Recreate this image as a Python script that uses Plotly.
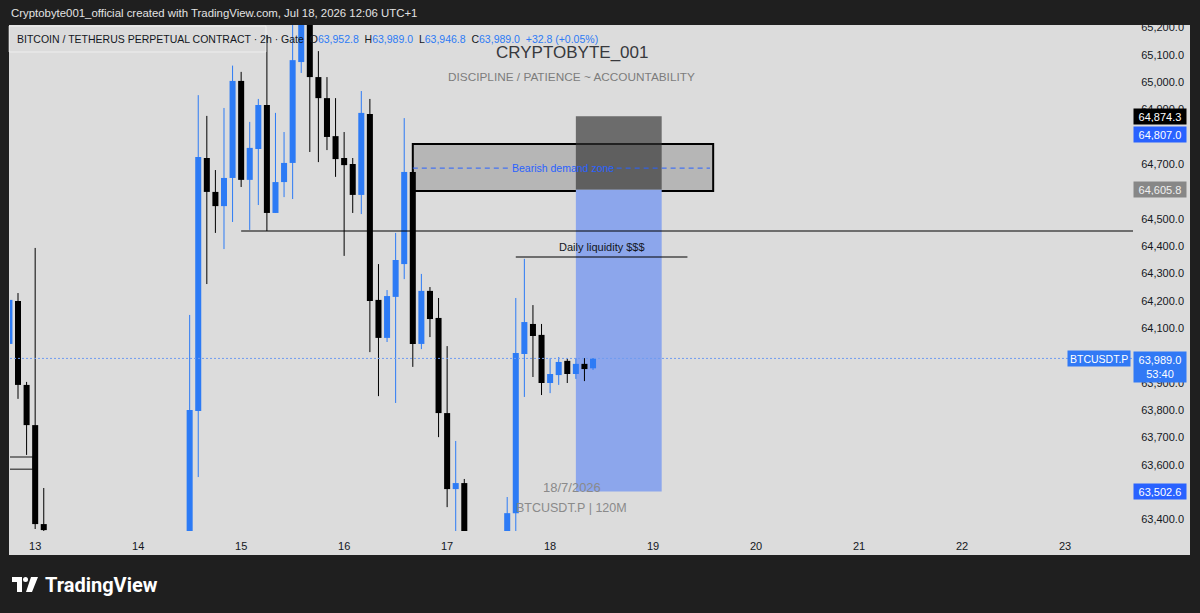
import plotly.graph_objects as go
import pandas as pd

# ---------------- data ----------------
candle_time = [
    "2026-07-12 18:00", "2026-07-12 20:00", "2026-07-12 22:00", "2026-07-13 00:00", "2026-07-13 02:00",
    "2026-07-14 12:00", "2026-07-14 14:00", "2026-07-14 16:00", "2026-07-14 18:00", "2026-07-14 20:00",
    "2026-07-14 22:00",
    "2026-07-15 00:00", "2026-07-15 02:00", "2026-07-15 04:00", "2026-07-15 06:00", "2026-07-15 08:00",
    "2026-07-15 10:00", "2026-07-15 12:00", "2026-07-15 14:00", "2026-07-15 16:00", "2026-07-15 18:00",
    "2026-07-15 20:00", "2026-07-15 22:00",
    "2026-07-16 00:00", "2026-07-16 02:00", "2026-07-16 04:00", "2026-07-16 06:00", "2026-07-16 08:00",
    "2026-07-16 10:00", "2026-07-16 12:00", "2026-07-16 14:00", "2026-07-16 16:00", "2026-07-16 18:00",
    "2026-07-16 20:00", "2026-07-16 22:00",
    "2026-07-17 00:00", "2026-07-17 02:00", "2026-07-17 04:00",
    "2026-07-17 14:00", "2026-07-17 16:00", "2026-07-17 18:00", "2026-07-17 20:00", "2026-07-17 22:00",
    "2026-07-18 00:00", "2026-07-18 02:00", "2026-07-18 04:00", "2026-07-18 06:00", "2026-07-18 08:00",
    "2026-07-18 10:00",
]
opens = [64042, 64199, 63892, 63745, 63383,
         63330, 63797, 64722, 64598, 64546, 64649,
         65004, 64642, 64755, 64916, 64521, 64634, 64704, 65073, 65215, 65018, 64941, 64802,
         64722, 64700, 64587, 64883, 64203, 64064, 64214, 64334, 64671, 64042, 64236, 64137,
         63789, 63511, 63533,
         63340, 63423, 64005, 64115, 64075,
         63899, 63928, 63980, 63932, 63969, 63952.8]
highs = [64239, 64228, 63903, 64393, 63515,
         64148, 64952, 64876, 64678, 64905, 65060,
         65037, 64854, 64938, 65172, 64887, 64817, 65210, 65240, 65240, 65113, 65018, 64941,
         64817, 64722, 64967, 64938, 64334, 64239, 64448, 64868, 64678, 64298, 64250, 64210,
         64034, 63687, 63548,
         63482, 64210, 64353, 64184, 64115,
         63990, 63994, 63990, 63990, 63990, 63989.0]
lows = [64038, 63841, 63636, 63365, 63350,
        63300, 63555, 64261, 64448, 64389, 64488,
        64616, 64459, 64550, 64455, 64521, 64579, 64572, 65033, 64744, 64707, 64751, 64653,
        64364, 64521, 64517, 64012, 63851, 64049, 63826, 64279, 63958, 64023, 64067, 63701,
        63445, 63330, 63300,
        63300, 63330, 63848, 63921, 63855,
        63862, 63892, 63899, 63914, 63906, 63946.8]
closes = [64203, 63892, 63745, 63383, 63361,
          63800, 64726, 64598, 64546, 64649, 65004,
          64642, 64759, 64916, 64521, 64634, 64704, 65080, 65215, 65018, 64941, 64799, 64718,
          64696, 64587, 64887, 64199, 64064, 64217, 64349, 64671, 64042, 64236, 64133, 63789,
          63511, 63533, 63340,
          63423, 64009, 64122, 64071, 63899,
          63932, 63976, 63932, 63969, 63950, 63989.0]

# price-axis ticks that remain visible (the others sit under the coloured price boxes)
price_ticks = [63400, 63600, 63700, 63800, 63900, 64100, 64200, 64300,
               64400, 64500, 64700, 64900, 65000, 65100, 65200]

last_price = 63989.0
countdown = "53:40"
change_text = "+32.8 (+0.05%)"
support_level = 64455
support_start = "2026-07-15 00:00"
zone_low, zone_high = 64601, 64773
zone_mid = 64685
zone_start, zone_end = "2026-07-16 16:00", "2026-07-19 14:00"
zone_text_gap = ("2026-07-17 14:30", "2026-07-18 15:30")
zone_text_x = "2026-07-18 03:00"
liq_level = 64360
liq_start, liq_end = "2026-07-17 16:00", "2026-07-19 08:00"
liq_text_x = "2026-07-18 12:00"
pos_stop, pos_entry, pos_target = 64874.3, 64605.8, 63502.6
pos_start, pos_end = "2026-07-18 06:00", "2026-07-19 02:00"
marker_level = 64807.0
left_box = ("2026-07-12 12:00", "2026-07-12 23:30", 63584, 63628)

x_range = ["2026-07-12 18:08", "2026-07-23 15:50"]
y_range = [63357.7, 65208.5]

# ---------------- style ----------------
W, H = 1200, 613
L, R, T, B = 10, 67, 25, 82
DARK = "#1f1f1f"
PANEL = "#dcdcdc"
BLUE = "#2d7bf5"
BBLUE = "#2962ff"
TXT = "#131722"
FONT = "Liberation Sans"


def pxx(x):
    return (x - L) / (W - L - R)


def pxy(y):
    return (H - B - y) / (H - T - B)


t = pd.to_datetime(candle_time)
up = [c >= o for o, c in zip(opens, closes)]
colors = [BLUE if u else "#000000" for u in up]

fig = go.Figure()

# wicks
for col, flag in ((BLUE, True), ("#000000", False)):
    xs, ys = [], []
    for ti, h, lo, u in zip(t, highs, lows, up):
        if u == flag:
            xs += [ti, ti, None]
            ys += [lo, h, None]
    fig.add_trace(go.Scatter(x=xs, y=ys, mode="lines", line=dict(color=col, width=1),
                             hoverinfo="skip", showlegend=False))

# bodies
base = [min(o, c) for o, c in zip(opens, closes)]
size = [max(abs(c - o), 4) for o, c in zip(opens, closes)]
fig.add_trace(go.Bar(x=t, y=size, base=base, width=2 * 43 * 60 * 1000 * 0.98,
                     marker=dict(color=colors, line=dict(width=0)),
                     hoverinfo="skip", showlegend=False))

shapes = []
# chart panel
shapes.append(dict(type="rect", xref="paper", yref="paper", x0=pxx(9), x1=pxx(1190),
                   y0=pxy(555), y1=pxy(25), fillcolor=PANEL, line=dict(width=0), layer="below"))
# small box at the left edge
shapes.append(dict(type="rect", xref="x", yref="y", x0=left_box[0], x1=left_box[1],
                   y0=left_box[2], y1=left_box[3], line=dict(color="#555555", width=1.5),
                   fillcolor="rgba(0,0,0,0)", layer="below"))
# demand zone
shapes.append(dict(type="rect", xref="x", yref="y", x0=zone_start, x1=zone_end,
                   y0=zone_low, y1=zone_high, fillcolor="rgba(120,120,120,0.38)",
                   line=dict(color="#000000", width=2), layer="below"))
# position tool
shapes.append(dict(type="rect", xref="x", yref="y", x0=pos_start, x1=pos_end,
                   y0=pos_entry, y1=pos_stop, fillcolor="rgba(50,50,50,0.66)",
                   line=dict(width=0), layer="below"))
shapes.append(dict(type="rect", xref="x", yref="y", x0=pos_start, x1=pos_end,
                   y0=pos_target, y1=pos_entry, fillcolor="#8ca6ec",
                   line=dict(width=0), layer="below"))
# zone dashed mid line
for a, b in ((zone_start, zone_text_gap[0]), (zone_text_gap[1], "2026-07-19 13:15")):
    shapes.append(dict(type="line", xref="x", yref="y", x0=a, x1=b, y0=zone_mid, y1=zone_mid,
                       line=dict(color=BBLUE, width=1, dash="5px,4px"), layer="above"))
# support line
shapes.append(dict(type="line", xref="x", yref="y", x0=support_start, x1=x_range[1],
                   y0=support_level, y1=support_level, line=dict(color="#000000", width=1.2),
                   layer="above"))
# daily liquidity line
shapes.append(dict(type="line", xref="x", yref="y", x0=liq_start, x1=liq_end,
                   y0=liq_level, y1=liq_level, line=dict(color="#000000", width=1.2),
                   layer="above"))
# last price dotted line
shapes.append(dict(type="line", xref="paper", yref="y", x0=0, x1=1, y0=last_price, y1=last_price,
                   line=dict(color="#6f9cf0", width=1, dash="2px,2px"), layer="above"))
# dark header band (covers clipped top tick label)
shapes.append(dict(type="rect", xref="paper", yref="paper", x0=pxx(0), x1=pxx(W),
                   y0=pxy(25), y1=pxy(0), fillcolor=DARK, line=dict(width=0), layer="above"))
# legend box outline
shapes.append(dict(type="rect", xref="paper", yref="paper", x0=pxx(9), x1=pxx(266),
                   y0=pxy(52), y1=pxy(26), fillcolor="rgba(220,220,220,0.3)",
                   line=dict(color="rgba(255,255,255,0.55)", width=1), layer="above"))
# TradingView logo
logo = "M {} {} L {} {} L {} {} L {} {} L {} {} L {} {} Z".format(
    pxx(12), pxy(577), pxx(22), pxy(577), pxx(22), pxy(592), pxx(17), pxy(592), pxx(17), pxy(582), pxx(12), pxy(582))
shapes.append(dict(type="path", xref="paper", yref="paper", path=logo, fillcolor="#ffffff",
                   line=dict(width=0), layer="above"))
shapes.append(dict(type="circle", xref="paper", yref="paper", x0=pxx(23), x1=pxx(28),
                   y0=pxy(582), y1=pxy(577), fillcolor="#ffffff", line=dict(width=0), layer="above"))
slash = "M {} {} L {} {} L {} {} L {} {} Z".format(
    pxx(31), pxy(577), pxx(38), pxy(577), pxx(32), pxy(592), pxx(26), pxy(592))
shapes.append(dict(type="path", xref="paper", yref="paper", path=slash, fillcolor="#ffffff",
                   line=dict(width=0), layer="above"))

ann = []
# header
ann.append(dict(xref="paper", yref="paper", x=pxx(9), y=pxy(13), xanchor="left", yanchor="middle",
                text="Cryptobyte001_official created with TradingView.com, Jul 18, 2026 12:06 UTC+1",
                showarrow=False, font=dict(family=FONT, size=11.4, color="#e3e3e3")))
# legend
vb = "<span style='color:%s'>%s</span>"
legend_txt = ("BITCOIN / TETHERUS PERPETUAL CONTRACT · 2h · Gate\u00a0\u00a0O" + vb % (BLUE, f"{opens[-1]:,.1f}") +
              "\u00a0\u00a0H" + vb % (BLUE, f"{highs[-1]:,.1f}") +
              "\u00a0\u00a0L" + vb % (BLUE, f"{lows[-1]:,.1f}") +
              "\u00a0\u00a0C" + vb % (BLUE, f"{closes[-1]:,.1f}") +
              "\u00a0\u00a0" + vb % (BLUE, change_text))
ann.append(dict(xref="paper", yref="paper", x=pxx(15), y=pxy(39), xanchor="left", yanchor="middle",
                text=legend_txt, showarrow=False, font=dict(family=FONT, size=10.5, color=TXT)))
# watermarks
ann.append(dict(xref="paper", yref="paper", x=0.5, y=pxy(52), xanchor="center", yanchor="middle",
                text="CRYPTOBYTE_001", showarrow=False, font=dict(family=FONT, size=17, color="#38393d")))
ann.append(dict(xref="paper", yref="paper", x=0.5, y=pxy(77), xanchor="center", yanchor="middle",
                text="DISCIPLINE / PATIENCE ~ ACCOUNTABILITY", showarrow=False,
                font=dict(family=FONT, size=11.8, color="#7c7c7c")))
ann.append(dict(xref="paper", yref="paper", x=0.5, y=pxy(487), xanchor="center", yanchor="middle",
                text="18/7/2026", showarrow=False, font=dict(family=FONT, size=13, color="#8a8a8a")))
ann.append(dict(xref="paper", yref="paper", x=0.5, y=pxy(508), xanchor="center", yanchor="middle",
                text="BTCUSDT.P | 120M", showarrow=False, font=dict(family=FONT, size=12.5, color="#8a8a8a")))
# drawing texts
ann.append(dict(xref="x", yref="y", x=zone_text_x, y=zone_mid, xanchor="center", yanchor="middle",
                text="Bearish demand zone", showarrow=False, font=dict(family=FONT, size=10.5, color=BBLUE)))
ann.append(dict(xref="x", yref="y", x=liq_text_x, y=liq_level, yshift=10, xanchor="center", yanchor="middle",
                text="Daily liquidity $$$", showarrow=False, font=dict(family=FONT, size=11, color=TXT)))
# price axis labels
for val, bg, fg in ((pos_stop, "#000000", "#ffffff"), (marker_level, BBLUE, "#ffffff"),
                    (pos_entry, "#878787", "#f0f0f0"), (pos_target, BBLUE, "#ffffff")):
    ann.append(dict(xref="paper", yref="y", x=1, y=val, xanchor="left", yanchor="middle",
                    text=f"{val:,.1f}", showarrow=False, bgcolor=bg, width=48, height=11, borderpad=2,
                    align="center", font=dict(family=FONT, size=11, color=fg)))
ann.append(dict(xref="paper", yref="y", x=1, y=last_price, yshift=7, xanchor="left", yanchor="top",
                text=f"{last_price:,.1f}<br>{countdown}", showarrow=False, bgcolor="#3179f5",
                width=48, borderpad=2, align="center", font=dict(family=FONT, size=11, color="#ffffff")))
ann.append(dict(xref="paper", yref="y", x=1, xshift=-2, y=last_price, xanchor="right", yanchor="middle",
                text="BTCUSDT.P", showarrow=False, bgcolor="#3179f5", height=11, borderpad=2,
                font=dict(family=FONT, size=10.5, color="#ffffff")))
# logo text
ann.append(dict(xref="paper", yref="paper", x=pxx(43), y=pxy(585), xanchor="left", yanchor="middle",
                text="<b>TradingView</b>", showarrow=False, font=dict(family="Roboto", size=20, color="#ffffff")))

fig.update_layout(
    width=W, height=H, margin=dict(l=L, r=R, t=T, b=B),
    paper_bgcolor=DARK, plot_bgcolor=PANEL, showlegend=False, hovermode=False,
    barmode="overlay", shapes=shapes, annotations=ann,
    xaxis=dict(type="date", range=x_range, showgrid=False, zeroline=False, showline=False,
               tickformat="%-d", dtick=86400000, tick0="2026-07-13",
               ticks="outside", ticklen=5, tickcolor=PANEL,
               tickfont=dict(family=FONT, size=11, color=TXT), fixedrange=True),
    yaxis=dict(side="right", range=y_range, showgrid=False, zeroline=False, showline=False,
               tickvals=price_ticks, tickformat=",.1f", ticks="outside", ticklen=5, tickcolor=PANEL,
               tickfont=dict(family=FONT, size=11, color=TXT), fixedrange=True),
)

fig.write_html("out.html")
